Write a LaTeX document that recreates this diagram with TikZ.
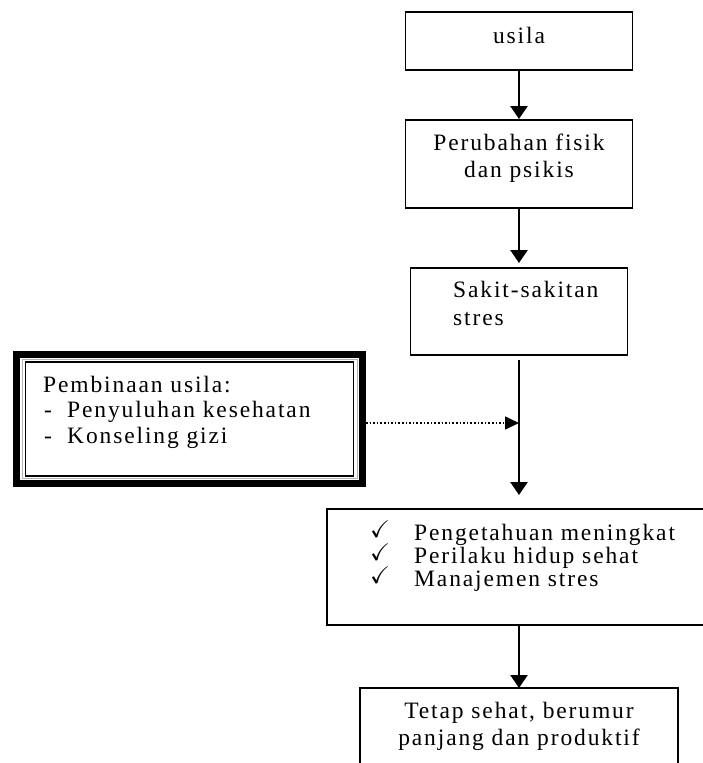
\documentclass[tikz,border=0pt]{standalone}
\usepackage{amssymb}
\usepackage{fontspec}
\setmainfont{Liberation Serif}[LetterSpace=8]
\usetikzlibrary{arrows.meta}
\begin{document}
\begin{tikzpicture}[x=1pt,y=-1pt,
  box/.style={draw,line width=1.2pt,rectangle,inner sep=0pt,outer sep=0pt},
  txt/.style={inner sep=0pt,font=\fontsize{23.5}{26}\selectfont},
  chk/.style={inner sep=0pt,font=\fontsize{24}{26}\selectfont},
  flow/.style={line width=2.5pt,-{Triangle[length=13pt,width=17pt]}},
  dots/.style={line width=1.6pt,dotted,-{Triangle[length=14pt,width=13pt]}}]
\useasboundingbox (0,0) rectangle (703,763);
\clip (0,0) rectangle (703,763);
% boxes
\node[box,minimum width=227pt,minimum height=58pt] (u) at (519,41) {};
\node[box,minimum width=227pt,minimum height=88pt] (pf) at (519,164) {};
\node[box,minimum width=217pt,minimum height=87pt] (ss) at (519,311.5) {};
\node[box,minimum width=384pt,minimum height=116pt] (pm) at (519,567) {};
\node[box,minimum width=318pt,minimum height=100pt] (ts) at (519,738) {};
% framed box
\node[draw,line width=7pt,minimum width=346pt,minimum height=129pt,inner sep=0pt] (pb) at (189.5,419) {};
\draw[gray!60,line width=0.9pt] ([shift={(9,8.5)}]pb.north west) rectangle ([shift={(-9,-8.5)}]pb.south east);
\draw[line width=1.2pt] ([shift={(12.5,11)}]pb.north west) rectangle ([shift={(-12.5,-11)}]pb.south east);
% connectors
\coordinate (j) at (519,423);
\draw[flow,shorten >=1pt] (u.south) -- (pf.north);
\draw[flow,shorten >=5pt] (pf.south) -- (ss.north);
\draw[flow,shorten <=5pt,shorten >=14pt] (ss.south) -- (pm.north);
\draw[dots] (pb.east |- j) -- (j);
\draw[flow] (pm.south) -- (ts.north);
% texts
\node[txt,anchor=base] (t1) at (519,43) {usila};
\node[txt,anchor=base] (t2) at (519,150) {Perubahan fisik};
\node[txt,anchor=base] (t3) at (519,177) {dan psikis};
\node[txt,anchor=base west] (t4) at (453,297) {Sakit-sakitan};
\node[txt,anchor=base west] (t5) at (453,325) {stres};
\node[txt,anchor=base west] (t6) at (43,392) {Pembinaan usila:};
\node[txt,anchor=base west] (d1) at (44,417) {-};
\node[txt,anchor=base west] (t7) at (67,417) {Penyuluhan kesehatan};
\node[txt,anchor=base west] (d2) at (44,443) {-};
\node[txt,anchor=base west] (t8) at (67,443) {Konseling gizi};
\node[chk,anchor=base west] (c1) at (370,537) {$\checkmark$};
\node[chk,anchor=base west] (c2) at (370,560) {$\checkmark$};
\node[chk,anchor=base west] (c3) at (370,583) {$\checkmark$};
\node[txt,anchor=base west] (t9) at (414,540) {Pengetahuan meningkat};
\node[txt,anchor=base west] (t10) at (414,563) {Perilaku hidup sehat};
\node[txt,anchor=base west] (t11) at (414,586) {Manajemen stres};
\node[txt,anchor=base] (t12) at (519,718) {Tetap sehat, berumur};
\node[txt,anchor=base] (t13) at (519,745) {panjang dan produktif};
\end{tikzpicture}
\end{document}
